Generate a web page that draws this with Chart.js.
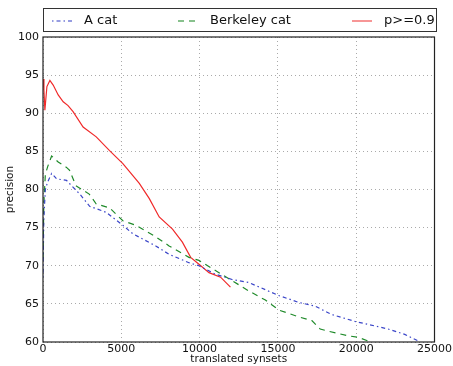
<!DOCTYPE html>
<html>
<head>
<meta charset="utf-8">
<script src="https://cdn.jsdelivr.net/npm/chart.js@4"></script>
<style>
  body { margin: 0; background: #fff; }
  #wrap { position: relative; width: 453px; height: 366px; }
  #legend {
    position: absolute; left: 43px; top: 8px; width: 394px; height: 24px;
    border: 1px solid #333; box-sizing: border-box;
    font: 13px "DejaVu Sans", sans-serif; color: #111;
  }
  #legend span.item { position: absolute; top: 3px; white-space: nowrap; }
  #legend svg { vertical-align: middle; margin-right: 12px; }
</style>
</head>
<body>
<div id="wrap">
  <canvas id="myChart" width="453" height="366"></canvas>
  <div id="legend"></div>
</div>
<script>
var aCatX = [0, 50, 150, 300, 550, 870, 1500, 1820, 2350, 2980, 4040, 5100, 5730, 7200, 8050, 9320, 9960, 11000, 12070, 13140, 15050, 16320, 17380, 18440, 19920, 21200, 22040, 23100, 24000];
var aCatY = [68.5, 76, 80, 81, 82.1, 81.4, 81.2, 80.5, 79.4, 77.8, 77, 75.3, 74.2, 72.6, 71.5, 70.4, 70, 68.9, 68.2, 67.8, 66.1, 65.2, 64.7, 63.6, 62.7, 62.1, 61.7, 61, 60.1];

var berkX = [0, 50, 150, 300, 550, 970, 1500, 1700, 2100, 2950, 3400, 4250, 5100, 5950, 7200, 8050, 9320, 9960, 11870, 13140, 14200, 15050, 16320, 17170, 17700, 18250, 19520, 20150, 20800];
var berkY = [71, 78, 82, 83, 84.4, 83.6, 82.9, 82.5, 80.5, 79.4, 78.1, 77.6, 75.9, 75.3, 73.8, 72.6, 71.1, 70.7, 68.3, 66.7, 65.5, 64.2, 63.3, 62.8, 61.7, 61.4, 60.8, 60.6, 60.1];

var redX = [0, 60, 120, 250, 440, 650, 970, 1290, 1600, 1920, 2560, 3400, 4250, 5100, 6150, 6790, 7420, 8270, 8900, 9430, 9960, 10600, 11340, 11970];
var redY = [94.5, 93, 90.4, 93.5, 94.3, 93.7, 92.4, 91.5, 91, 90.2, 88.2, 86.9, 85.1, 83.4, 80.8, 78.8, 76.4, 74.8, 73.1, 71.1, 70.2, 69.1, 68.5, 67.2];

var seriesNames = ["A cat", "Berkeley cat", "p>=0.9"];
var seriesColors = ["#3a45c8", "#1f8a2a", "#f02a2a"];
var seriesDash = [[1.5, 3, 4, 3], [6, 5], []];
var xTicks = [0, 5000, 10000, 15000, 20000, 25000];
var yTicks = [60, 65, 70, 75, 80, 85, 90, 95, 100];

function pts(xs, ys) {
  return xs.map(function (x, i) { return { x: x, y: ys[i] }; });
}
var allData = [pts(aCatX, aCatY), pts(berkX, berkY), pts(redX, redY)];

var frame = {
  id: "frame",
  afterDraw: function (chart) {
    var a = chart.chartArea, ctx = chart.ctx;
    ctx.save();
    ctx.strokeStyle = "#222";
    ctx.lineWidth = 1.2;
    ctx.strokeRect(a.left, a.top, a.right - a.left, a.bottom - a.top);
    ctx.restore();
  }
};

var font = { family: "DejaVu Sans", size: 11 };
var titleFont = { family: "DejaVu Sans", size: 10.5 };

new Chart("myChart", {
  type: "line",
  data: {
    datasets: allData.map(function (d, i) {
      return {
        label: seriesNames[i],
        data: d,
        borderColor: seriesColors[i],
        borderDash: seriesDash[i],
        borderWidth: 1.2,
        pointRadius: 0,
        tension: 0,
        fill: false
      };
    })
  },
  options: {
    responsive: false,
    animation: false,
    layout: { padding: { left: 0, right: 16, top: 37, bottom: 0 } },
    plugins: { legend: { display: false }, tooltip: { enabled: false } },
    scales: {
      x: {
        type: "linear", min: 0, max: 25000,
        afterBuildTicks: function (s) { s.ticks = xTicks.map(function (v) { return { value: v }; }); },
        afterFit: function (s) { s.height = 24; },
        grid: { color: "#aaa", drawTicks: false },
        border: { display: false, dash: [1, 3] },
        ticks: { font: font, color: "#111", padding: 1, maxRotation: 0,
          callback: function (v) { return String(v); } },
        title: { display: true, text: "translated synsets", font: titleFont, color: "#111", padding: 0 }
      },
      y: {
        min: 60, max: 100,
        afterBuildTicks: function (s) { s.ticks = yTicks.map(function (v) { return { value: v }; }); },
        afterFit: function (s) { s.width = 43; },
        grid: { color: "#aaa", drawTicks: false },
        border: { display: false, dash: [1, 3] },
        ticks: { font: font, color: "#111", padding: 4 },
        title: { display: true, text: "precision", font: titleFont, color: "#111", padding: 4 }
      }
    }
  },
  plugins: [frame]
});

// legend drawn as html, spread across the top like matplotlib's expand mode
var legendLeft = [8, 134, 308];
var legendHtml = "";
seriesNames.forEach(function (name, i) {
  var dash = seriesDash[i].length ? ' stroke-dasharray="' + seriesDash[i].join(" ") + '"' : "";
  legendHtml += '<span class="item" style="left:' + legendLeft[i] + 'px">' +
    '<svg width="20" height="8"><line x1="0" y1="4" x2="20" y2="4" stroke="' + seriesColors[i] +
    '" stroke-width="1.4"' + dash + ' opacity="0.7"/></svg>' + name + '</span>';
});
document.getElementById("legend").innerHTML = legendHtml;
</script>
</body>
</html>
